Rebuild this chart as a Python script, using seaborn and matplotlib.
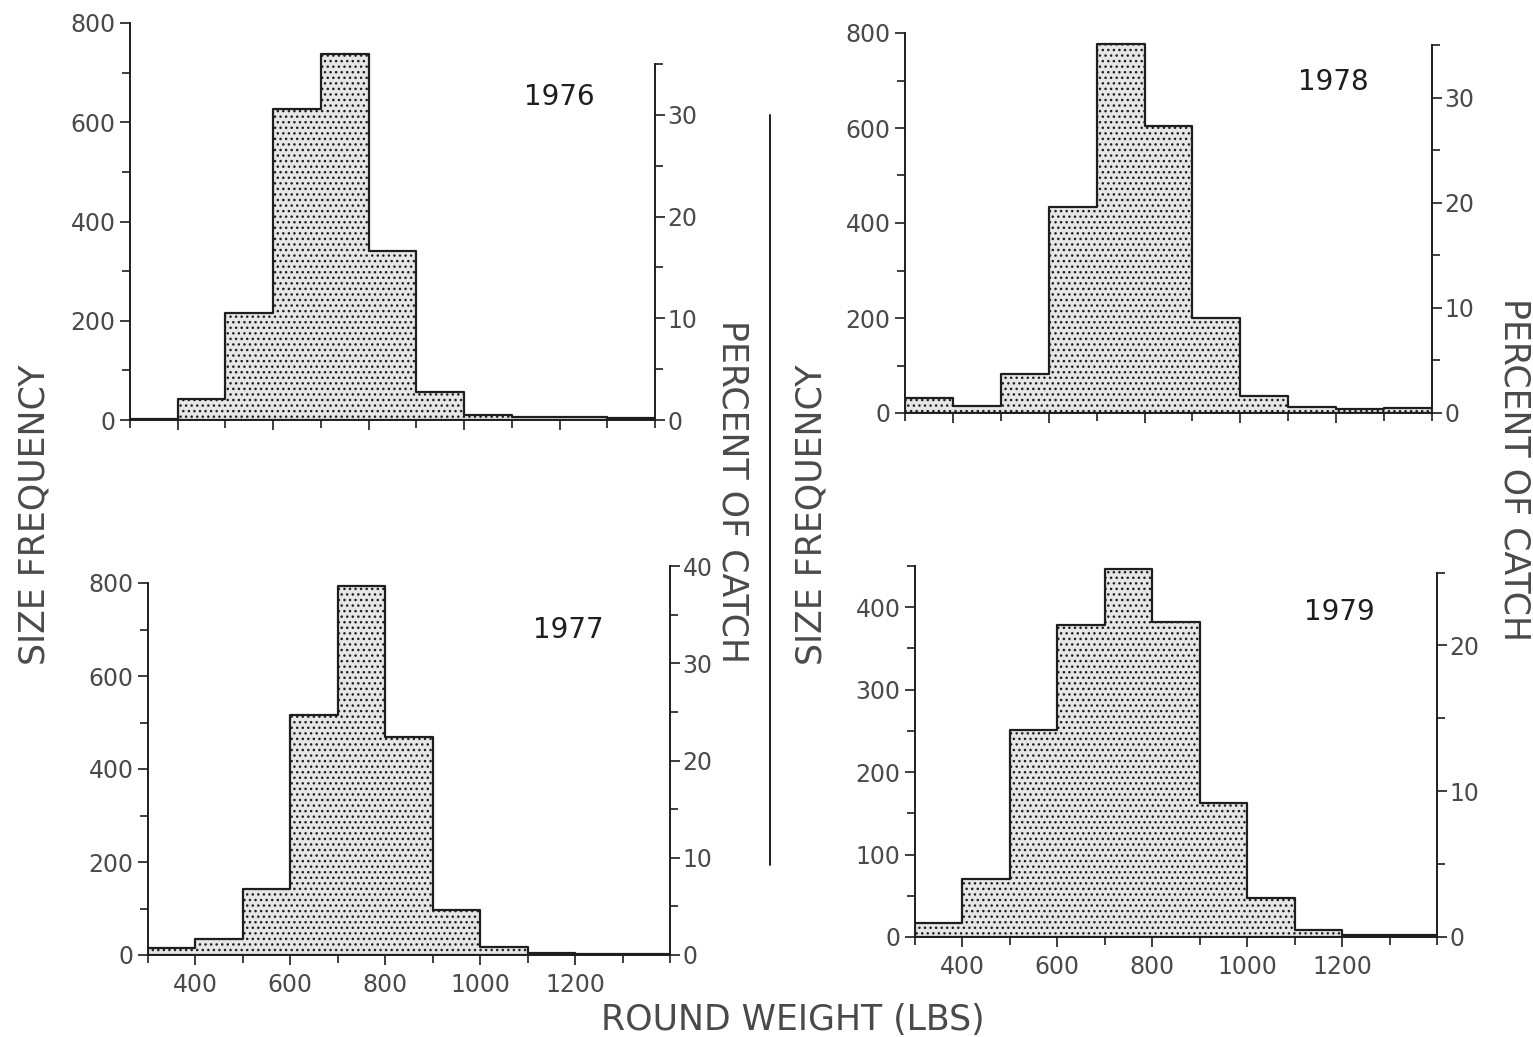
"""Round weight size frequency histograms, 1976-1979"""

import matplotlib
matplotlib.use("Agg")
import matplotlib.pyplot as plt
from matplotlib.lines import Line2D
from matplotlib.ticker import FixedLocator, NullFormatter, NullLocator
import seaborn as sns

# bin edges (lbs) and counts
bin_edges = [300, 400, 500, 600, 700, 800, 900, 1000, 1100, 1200, 1300, 1400]
counts_1976 = [2, 42, 216, 626, 738, 341, 57, 10, 7, 6, 5]
counts_1977 = [14, 34, 141, 517, 793, 468, 96, 18, 4, 3, 3]
counts_1978 = [32, 15, 83, 433, 777, 605, 200, 36, 13, 8, 10]
counts_1979 = [17, 70, 251, 378, 446, 382, 163, 47, 8, 3, 3]
x_ticks = [400, 600, 800, 1000, 1200]

W, H = 1533, 1037
TEXT = "#4a4a4a"
INK = "#1e1e1e"
TICK_SIZE = 17


def px_rect(left, right, top, bottom):
    """Axes rectangle from pixel edges"""
    return [left / W, 1 - bottom / H, (right - left) / W, (bottom - top) / H]


def draw_panel(fig, rect, year, counts, ymax, ymajor, yminor,
               pct_major, pct_minor, pct_top, xlabels, year_xy):
    ax = fig.add_axes(rect)
    centers = [(a + b) / 2 for a, b in zip(bin_edges[:-1], bin_edges[1:])]
    sns.histplot(x=centers, weights=counts, bins=bin_edges, element="step",
                 fill=True, ax=ax, facecolor="#e6e6e6", edgecolor=INK,
                 linewidth=1.6, hatch="...", alpha=1)
    ax.set_xlim(bin_edges[0], bin_edges[-1])
    ax.set_ylim(0, ymax)
    ax.set_xlabel("")
    ax.set_ylabel("")
    ax.spines[["top", "right"]].set_visible(False)
    for s in ("left", "bottom"):
        ax.spines[s].set_linewidth(1.4)
        ax.spines[s].set_color(INK)

    ax.yaxis.set_major_locator(FixedLocator(ymajor))
    ax.yaxis.set_minor_locator(FixedLocator(yminor))
    ax.xaxis.set_major_locator(FixedLocator(x_ticks))
    ax.xaxis.set_minor_locator(FixedLocator(bin_edges))
    if not xlabels:
        ax.xaxis.set_major_formatter(NullFormatter())
    ax.tick_params(which="both", direction="out", color=INK, width=1.2,
                   labelcolor=TEXT, labelsize=TICK_SIZE,
                   bottom=True, left=True, top=False, right=False)
    ax.tick_params(which="major", length=7)
    ax.tick_params(which="minor", length=6)
    ax.tick_params(axis="x", pad=6)

    # percent-of-catch scale: same baseline, height set so that the
    # percent values line up with the counts of this year's total
    total = sum(counts)
    top_count = pct_top / 100 * total
    l, b, w, h = rect
    ax2 = fig.add_axes([l, b, w, h * top_count / ymax])
    ax2.patch.set_visible(False)
    ax2.set_ylim(0, pct_top)
    ax2.spines[["top", "left", "bottom"]].set_visible(False)
    ax2.spines["right"].set_linewidth(1.4)
    ax2.spines["right"].set_color(INK)
    ax2.xaxis.set_major_locator(NullLocator())
    ax2.yaxis.tick_right()
    ax2.yaxis.set_major_locator(FixedLocator(pct_major))
    ax2.yaxis.set_minor_locator(FixedLocator(pct_minor))
    ax2.tick_params(which="both", direction="out", color=INK, width=1.2,
                    labelcolor=TEXT, labelsize=TICK_SIZE, pad=2,
                    right=True, left=False, bottom=False, top=False)
    ax2.tick_params(which="major", length=7)
    ax2.tick_params(which="minor", length=6)

    ax.text(year_xy[0], year_xy[1], year, ha="center", va="center",
            fontsize=20, color=INK)
    return ax


def main() -> None:
    sns.set_style("white")
    plt.rcParams["font.family"] = ["DejaVu Sans"]
    fig = plt.figure(figsize=(W / 100, H / 100), dpi=100)

    draw_panel(fig, px_rect(130, 655, 23, 420), "1976", counts_1976,
               800, [0, 200, 400, 600, 800], [100, 300, 500, 700],
               [0, 10, 20, 30], [5, 15, 25, 35], 35, False, (1200, 650))
    draw_panel(fig, px_rect(905, 1432, 33, 413), "1978", counts_1978,
               800, [0, 200, 400, 600, 800], [100, 300, 500, 700],
               [0, 10, 20, 30], [5, 15, 25, 35], 35, False, (1195, 697))
    draw_panel(fig, px_rect(148, 670, 583, 955), "1977", counts_1977,
               800, [0, 200, 400, 600, 800], [100, 300, 500, 700],
               [0, 10, 20, 30, 40], [5, 15, 25, 35], 40, True, (1185, 699))
    draw_panel(fig, px_rect(915, 1437, 566, 937), "1979", counts_1979,
               450, [0, 100, 200, 300, 400], [50, 150, 250, 350, 450],
               [0, 10, 20], [5, 15, 25], 25, True, (1195, 394))

    label_kw = dict(ha="center", va="center", fontsize=25, color=TEXT)
    fig.text(35 / W, 1 - 515 / H, "SIZE FREQUENCY", rotation=90, **label_kw)
    fig.text(812 / W, 1 - 515 / H, "SIZE FREQUENCY", rotation=90, **label_kw)
    fig.text(732 / W, 1 - 492 / H, "PERCENT OF CATCH", rotation=270, **label_kw)
    fig.text(1515 / W, 1 - 470 / H, "PERCENT OF CATCH", rotation=270, **label_kw)
    fig.text(793 / W, 1 - 1020 / H, "ROUND WEIGHT (LBS)", **label_kw)

    # separator line between the two columns
    fig.add_artist(Line2D([770 / W, 770 / W], [1 - 115 / H, 1 - 865 / H],
                          transform=fig.transFigure, color=INK, linewidth=1.4))

    fig.savefig("out.png", dpi=100)


if __name__ == "__main__":
    main()
